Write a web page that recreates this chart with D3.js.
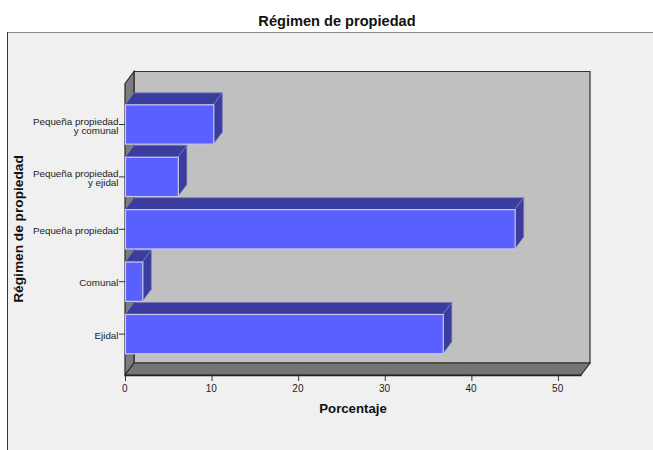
<!DOCTYPE html>
<html><head><meta charset="utf-8">
<script src="https://cdn.jsdelivr.net/npm/d3@7"></script>
<style>html,body{margin:0;padding:0;background:#fff}svg{display:block}text{font-family:"Liberation Sans",Arial,sans-serif}</style>
</head><body><svg id="c" width="653" height="450"></svg>
<script>
const categories=["Pequeña propiedad|y comunal","Pequeña propiedad|y ejidal","Pequeña propiedad","Comunal","Ejidal"];
const values=[10.2,6.1,45,2.0,36.7];
const xTicks=[0,10,20,30,40,50];
const titleText="Régimen de propiedad";
const xTitle="Porcentaje";
const yTitle="Régimen de propiedad";

const svg=d3.select("#c");
const dx=9,dy=-12;
const x=d3.scaleLinear().domain([0,52.66]).range([125,581]);
const y=d3.scaleBand().domain(categories).range([98.3,360.3]).paddingInner(0.25).paddingOuter(0.125);
const plotTop=83.5,plotBot=375,plotLeft=x(0),plotRight=x.range()[1];
const pts=a=>a.map(p=>p.join(",")).join(" ");

// panel
svg.append("rect").attr("x",7).attr("y",32).attr("width",646).attr("height",418).attr("fill","#f0f0f0");
svg.append("line").attr("x1",7).attr("x2",653).attr("y1",32.5).attr("y2",32.5).attr("stroke","#8a8a8a");
svg.append("line").attr("x1",7.5).attr("x2",7.5).attr("y1",32).attr("y2",450).attr("stroke","#3a3a3a");

// walls
svg.append("polygon").attr("points",pts([[plotLeft+dx,plotTop+dy],[plotRight+dx,plotTop+dy],[plotRight+dx,plotBot+dy],[plotLeft+dx,plotBot+dy]]))
  .attr("fill","#c0c0c0").attr("stroke","#333").attr("stroke-width",1.2);
svg.append("polygon").attr("points",pts([[plotLeft,plotTop],[plotLeft+dx,plotTop+dy],[plotLeft+dx,plotBot+dy],[plotLeft,plotBot]]))
  .attr("fill","#7c7c7c").attr("stroke","#2a2a2a").attr("stroke-width",1.2);
svg.append("polygon").attr("points",pts([[plotLeft,plotBot],[plotLeft+dx,plotBot+dy],[plotRight+dx,plotBot+dy],[plotRight,plotBot]]))
  .attr("fill","#757575").attr("stroke","#2a2a2a").attr("stroke-width",1.2);

// bars
const bars=svg.append("g").selectAll("g").data(categories.map((c,i)=>({c,v:values[i]}))).join("g");
bars.append("polygon").attr("fill","#3a3c9e").attr("stroke","#7a7bb4").attr("stroke-width",.7)
  .attr("points",d=>{const a=x(0),b=x(d.v),t=y(d.c);return pts([[a,t],[a+dx,t+dy],[b+dx,t+dy],[b,t]]);});
bars.append("polygon").attr("fill","#3a3c9e").attr("stroke","#7a7bb4").attr("stroke-width",.7)
  .attr("points",d=>{const b=x(d.v),t=y(d.c),h=y.bandwidth();return pts([[b,t],[b+dx,t+dy],[b+dx,t+h+dy],[b,t+h]]);});
bars.append("rect").attr("x",x(0)+.5).attr("y",d=>y(d.c)).attr("width",d=>x(d.v)-x(0)).attr("height",y.bandwidth())
  .attr("fill","#5a60ff").attr("stroke","#c8c8e8").attr("stroke-width",1.2);

// axes
const ax=svg.append("g").attr("transform",`translate(0,${plotBot})`)
  .call(d3.axisBottom(x).tickValues(xTicks).tickSize(6).tickPadding(3.5).tickSizeOuter(0));
ax.select(".domain").attr("stroke","#222").attr("stroke-width",1.5);
ax.selectAll("line").attr("stroke","#333");
ax.selectAll("text").attr("font-size",10).attr("fill","#222").attr("font-family","Liberation Sans").attr("dx",-0.8);

const ay=svg.append("g").attr("transform",`translate(${plotLeft},0)`)
  .call(d3.axisLeft(y).tickSize(6).tickPadding(1).tickSizeOuter(0));
ay.select(".domain").remove();
ay.selectAll("line").attr("stroke","#333");
ay.selectAll("text").attr("font-size",9.8).attr("fill","#222").attr("font-family","Liberation Sans").attr("dy",null).each(function(d){
  const s=d.split("|"),t=d3.select(this).text(null);
  const y0=s.length>1?0.2:4.6;
  s.forEach((p,i)=>t.append("tspan").attr("x",-6.5).attr("y",y0+i*9.2).text(p));
});

// titles
svg.append("text").attr("x",337).attr("y",26).attr("text-anchor","middle").attr("font-size",14.6).attr("font-weight","bold").attr("fill","#111").text(titleText);
svg.append("text").attr("x",353).attr("y",413).attr("text-anchor","middle").attr("font-size",13.2).attr("font-weight","bold").attr("fill","#111").text(xTitle);
svg.append("text").attr("transform","translate(23,229) rotate(-90)").attr("text-anchor","middle").attr("font-size",13.7).attr("font-weight","bold").attr("fill","#111").text(yTitle);
</script></body></html>
